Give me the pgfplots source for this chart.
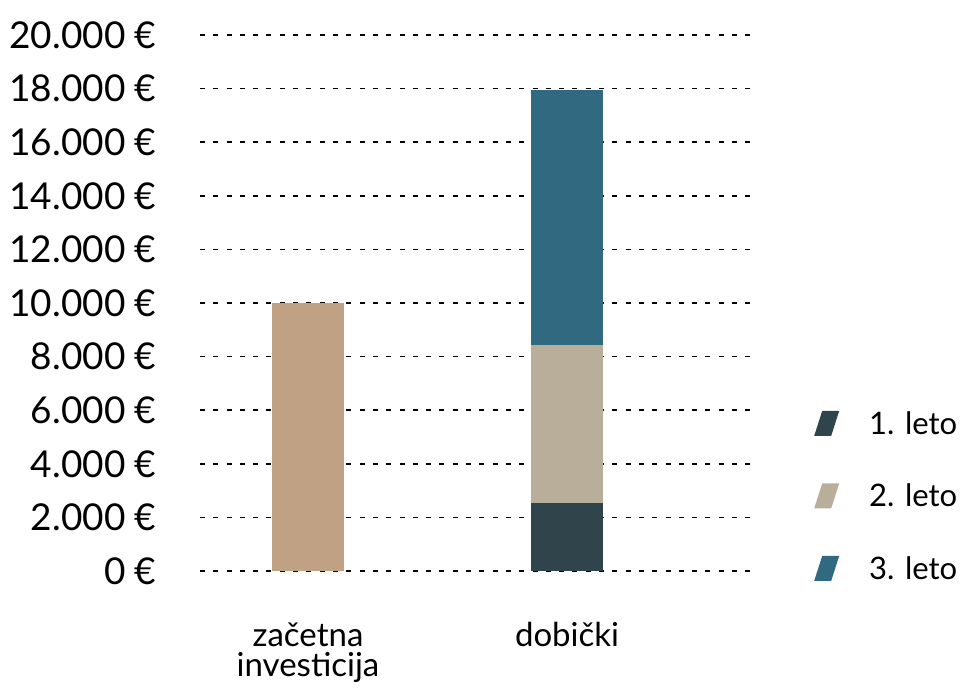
\documentclass[border=0pt]{standalone}
\usepackage{fontspec}
\setmainfont{Lato}
\usepackage{pgfplots}
\pgfplotsset{compat=1.18}
\definecolor{cInv}{HTML}{C0A183}
\definecolor{cA}{HTML}{30454B}
\definecolor{cB}{HTML}{B8AE9A}
\definecolor{cC}{HTML}{316A80}
\begin{document}
\begin{tikzpicture}[x=1pt,y=1pt]
\useasboundingbox (-200,-121) rectangle (766,571);
\begin{axis}[
  at={(0,0)}, anchor=south west,
  scale only axis, width=552pt, height=536pt,
  ybar stacked, bar width=72pt,
  xmin=-0.417, xmax=1.714, ymin=0, ymax=20000,
  scaled y ticks=false,
  axis line style={draw=none},
  major tick style={draw=none},
  ymajorgrids,
  grid style={black, line width=1.5pt, dash pattern=on 5pt off 8.3pt},
  ytick={0,2000,...,20000},
  yticklabels={0 €,2.000 €,4.000 €,6.000 €,8.000 €,10.000 €,12.000 €,14.000 €,16.000 €,18.000 €,20.000 €},
  yticklabel style={font=\fontsize{37}{37}\selectfont, xshift=-40pt},
  xtick={0,1},
  xticklabels={{začetna\\investicija},{dobički}},
  xticklabel style={font=\fontsize{33}{30}\selectfont, align=center, anchor=north, yshift=-48pt},
  legend style={at={(1.1123,0.299)}, anchor=north west, draw=none, fill=none,
    inner sep=0pt, font=\fontsize{31}{31}\selectfont, row sep=47.5pt,
    nodes={inner sep=0pt},
    /tikz/every odd column/.append style={column sep=30pt}},
  legend cell align=left,
  legend image code/.code={\fill[#1] (0pt,-12.5pt) -- (17pt,-12.5pt) -- (25pt,12.5pt) -- (8pt,12.5pt) -- cycle;},
]
\addplot[fill=cA, draw=none] coordinates {(0,0) (1,2550)};
\addlegendentry{1. leto}
\addplot[fill=cB, draw=none] coordinates {(0,0) (1,5900)};
\addlegendentry{2. leto}
\addplot[fill=cC, draw=none] coordinates {(0,0) (1,9500)};
\addlegendentry{3. leto}
\addplot[fill=cInv, draw=none] coordinates {(0,10000) (1,0)};
\end{axis}
\end{tikzpicture}
\end{document}
